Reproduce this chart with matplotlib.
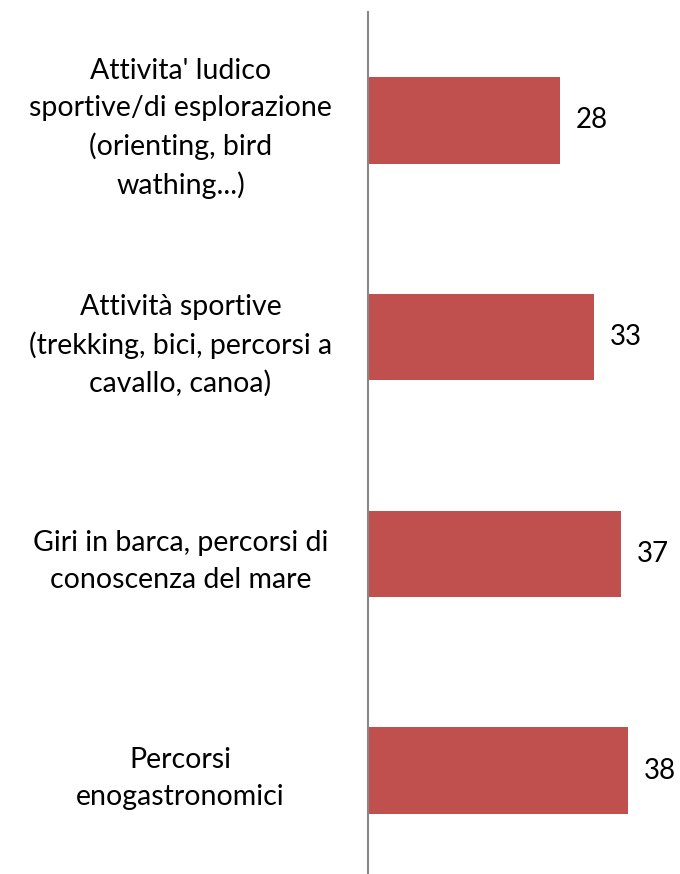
import matplotlib.pyplot as plt

categories = [
    "Attivita' ludico\nsportive/di esplorazione\n(orienting, bird\nwathing...)",
    "Attività sportive\n(trekking, bici, percorsi a\ncavallo, canoa)",
    "Giri in barca, percorsi di\nconoscenza del mare",
    "Percorsi\nenogastronomici",
]
values = [28, 33, 37, 38]

BAR_COLOR = "#C0504D"
plt.rcParams['font.family'] = ['Lato', 'DejaVu Sans']

fig = plt.figure(figsize=(6.8, 8.74), dpi=100)
ax = fig.add_axes([368 / 680, -5 / 874, 308 / 680, 867 / 874])

pos = list(range(len(values)))
ax.barh(pos, values, height=0.4, color=BAR_COLOR)
ax.set_ylim(len(values) - 0.5, -0.5)
ax.set_xlim(0, 45)

for p, v in zip(pos, values):
    ax.text(v + 2.3, p, str(v), va='center', ha='left', fontsize=20, color='black')

ax.set_yticks(pos)
ax.set_yticklabels(categories, ha='center', fontsize=20.5, linespacing=1.5)
ax.tick_params(axis='y', length=0, pad=135)
ax.set_xticks([])

for s in ['top', 'right', 'bottom']:
    ax.spines[s].set_visible(False)
ax.spines['left'].set_color('#888888')
ax.spines['left'].set_linewidth(1.5)

fig.savefig('out.png', dpi=100)
